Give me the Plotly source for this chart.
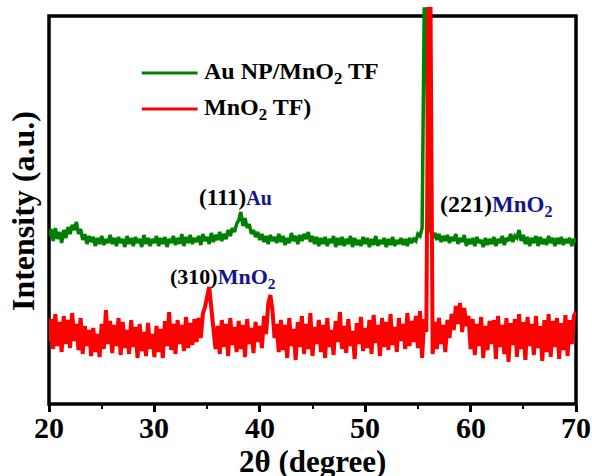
import numpy as np
import plotly.graph_objects as go

# 2-theta scan grid (degrees), 0.2 deg step
two_theta = [round(20 + 0.2 * i, 1) for i in range(251)]

# Au NP/MnO2 TF intensity (a.u.)
au_mno2 = [
    168, 175, 163, 176, 165, 172, 161, 174, 166, 177,
    170, 179, 174, 182, 170, 175, 164, 170, 160, 168,
    162, 167, 158, 166, 160, 168, 159, 165, 161, 169,
    160, 166, 158, 167, 161, 165, 157, 168, 160, 166,
    158, 167, 161, 165, 157, 169, 160, 166, 158, 165,
    161, 168, 158, 166, 160, 167, 157, 165, 161, 168,
    159, 166, 160, 170, 158, 167, 161, 169, 160, 166,
    162, 168, 159, 170, 163, 167, 160, 171, 162, 169,
    164, 172, 163, 170, 165, 174, 168, 176, 172, 180,
    184, 192, 178, 186, 176, 180, 170, 174, 167, 172,
    164, 170, 162, 168, 160, 169, 163, 167, 161, 170,
    162, 168, 159, 166, 161, 171, 163, 168, 160, 169,
    163, 170, 165, 172, 162, 168, 160, 167, 158, 166,
    160, 167, 158, 165, 161, 168, 157, 166, 159, 167,
    158, 165, 160, 168, 157, 166, 159, 164, 158, 167,
    160, 166, 157, 165, 159, 168, 158, 164, 160, 166,
    157, 165, 159, 167, 158, 164, 160, 166, 159, 165,
    158, 166, 161, 165, 163, 170, 168, 176, 395, 395,
    182, 172, 166, 171, 164, 170, 162, 168, 163, 169,
    161, 167, 163, 170, 160, 166, 162, 169, 158, 165,
    160, 166, 158, 167, 161, 164, 157, 166, 159, 165,
    160, 167, 158, 165, 161, 168, 159, 166, 163, 170,
    162, 168, 166, 174, 163, 169, 160, 167, 158, 166,
    161, 168, 158, 167, 160, 165, 159, 168, 161, 166,
    158, 166, 160, 167, 159, 165, 161, 166, 158, 165,
    162,
]

# MnO2 TF intensity (a.u.)
mno2 = [
    62, 85, 55, 90, 58, 82, 52, 88, 60, 84,
    56, 91, 63, 80, 54, 86, 50, 78, 58, 74,
    48, 76, 52, 70, 47, 80, 55, 94, 60, 83,
    51, 79, 58, 86, 49, 82, 56, 74, 50, 84,
    57, 77, 46, 80, 53, 72, 48, 81, 55, 70,
    47, 78, 52, 75, 46, 83, 58, 92, 54, 80,
    50, 84, 60, 79, 53, 87, 56, 81, 59, 85,
    62, 86, 66, 90, 97, 108, 117, 96, 70, 55,
    78, 50, 84, 57, 80, 48, 86, 59, 77, 52,
    83, 55, 79, 47, 85, 60, 76, 51, 82, 62,
    78, 56, 88, 70, 100, 109, 94, 66, 80, 52,
    84, 54, 79, 46, 86, 58, 75, 44, 82, 57,
    88, 50, 80, 55, 91, 48, 77, 60, 84, 52,
    79, 46, 86, 57, 74, 49, 83, 62, 92, 55,
    78, 51, 85, 58, 73, 45, 81, 60, 87, 53,
    76, 56, 84, 50, 89, 61, 79, 48, 86, 57,
    82, 54, 90, 59, 77, 52, 86, 63, 80, 55,
    91, 58, 83, 62, 88, 56, 93, 46, 85, 72,
    395, 395, 50, 82, 55, 86, 60, 79, 52, 84,
    66, 90, 74, 98, 80, 101, 72, 96, 78, 88,
    55, 85, 49, 80, 58, 87, 46, 78, 54, 83,
    60, 84, 45, 88, 57, 79, 50, 86, 42, 81,
    59, 85, 47, 90, 55, 82, 44, 87, 58, 80,
    49, 88, 56, 78, 43, 84, 52, 90, 47, 83,
    57, 86, 45, 81, 54, 89, 48, 84, 60, 88,
    92,
]

x_ticks = [20, 30, 40, 50, 60, 70]
x_minor_ticks = [25, 35, 45, 55, 65]
series_names = ["Au NP/MnO<sub>2</sub> TF", "MnO<sub>2</sub> TF)"]
series_colors = ["#008000", "#ff0000"]

FONT = "Liberation Serif, Times New Roman, serif"
NAVY = "#14148c"
Y_TOP = 388.0
Y_MAX = 399.0

fig = go.Figure()
fig.add_trace(go.Scatter(x=two_theta, y=au_mno2, mode="lines",
                         line=dict(color=series_colors[0], width=3.5),
                         name=series_names[0], showlegend=False))
fig.add_trace(go.Scatter(x=two_theta, y=mno2, mode="lines",
                         line=dict(color=series_colors[1], width=4),
                         name=series_names[1], showlegend=False))

# frame box (paper coordinates so it is not clipped)
fig.add_shape(type="rect", xref="paper", yref="paper", x0=0, x1=1, y0=0, y1=Y_TOP / Y_MAX,
              line=dict(color="black", width=3.5), layer="below")

# manual legend
for i, (nm, col) in enumerate(zip(series_names, series_colors)):
    yl = 331 - 36 * i
    fig.add_shape(type="line", xref="x", yref="y", x0=28.8, x1=34.1, y0=yl, y1=yl,
                  line=dict(color=col, width=3))
    fig.add_annotation(x=34.5, y=yl, xref="x", yref="y", text="<b>%s</b>" % nm,
                       showarrow=False, xanchor="left", yanchor="middle",
                       font=dict(family=FONT, size=24, color="black"))

# peak labels
fig.add_annotation(x=37.7, y=207, xref="x", yref="y",
                   text="<b>(111)</b><b><span style='color:%s;font-size:20px'>Au</span></b>" % NAVY,
                   showarrow=False, xanchor="center", yanchor="middle",
                   font=dict(family=FONT, size=23, color="black"))
fig.add_annotation(x=36.5, y=126, xref="x", yref="y",
                   text="<b>(310)</b><b><span style='color:%s;font-size:22px'>MnO<sub>2</sub></span></b>" % NAVY,
                   showarrow=False, xanchor="center", yanchor="middle",
                   font=dict(family=FONT, size=22, color="black"))
fig.add_annotation(x=62.45, y=199, xref="x", yref="y",
                   text="<b>(221)</b><b><span style='color:%s;font-size:23px'>MnO<sub>2</sub></span></b>" % NAVY,
                   showarrow=False, xanchor="center", yanchor="middle",
                   font=dict(family=FONT, size=24, color="black"))

# x tick labels (placed as annotations for exact vertical position)
for t in x_ticks:
    fig.add_annotation(x=t, y=-23 / Y_MAX, xref="x", yref="paper",
                       text="<b>%d</b>" % t, showarrow=False,
                       xanchor="center", yanchor="middle",
                       font=dict(family=FONT, size=30, color="black"))

# axis titles
fig.add_annotation(x=-0.049, y=0.484, xref="paper", yref="paper",
                   text="<b>Intensity (a.u.)</b>", textangle=-90, showarrow=False,
                   xanchor="center", yanchor="middle",
                   font=dict(family=FONT, size=32, color="black"))
fig.add_annotation(x=0.5, y=-57 / Y_MAX, xref="paper", yref="paper",
                   text="<b>2θ (degree)</b>", showarrow=False,
                   xanchor="center", yanchor="middle",
                   font=dict(family=FONT, size=31, color="black"))

fig.update_xaxes(range=[20, 70], showgrid=False, zeroline=False, showline=False,
                 tickmode="array", tickvals=x_ticks, showticklabels=False,
                 ticks="outside", ticklen=7, tickwidth=2.5, tickcolor="black",
                 minor=dict(ticks="outside", ticklen=4, tickwidth=2, tickcolor="black",
                            tickvals=x_minor_ticks))
fig.update_yaxes(range=[0, Y_MAX], showgrid=False, zeroline=False, showline=False,
                 showticklabels=False, ticks="")

fig.update_layout(width=592, height=476, autosize=False,
                  margin=dict(l=49, r=16, t=5, b=72),
                  paper_bgcolor="white", plot_bgcolor="white",
                  showlegend=False)

fig.write_html("out.html", config={"displayModeBar": False},
               post_script="document.body.style.margin='0px';document.body.style.overflow='hidden';")
